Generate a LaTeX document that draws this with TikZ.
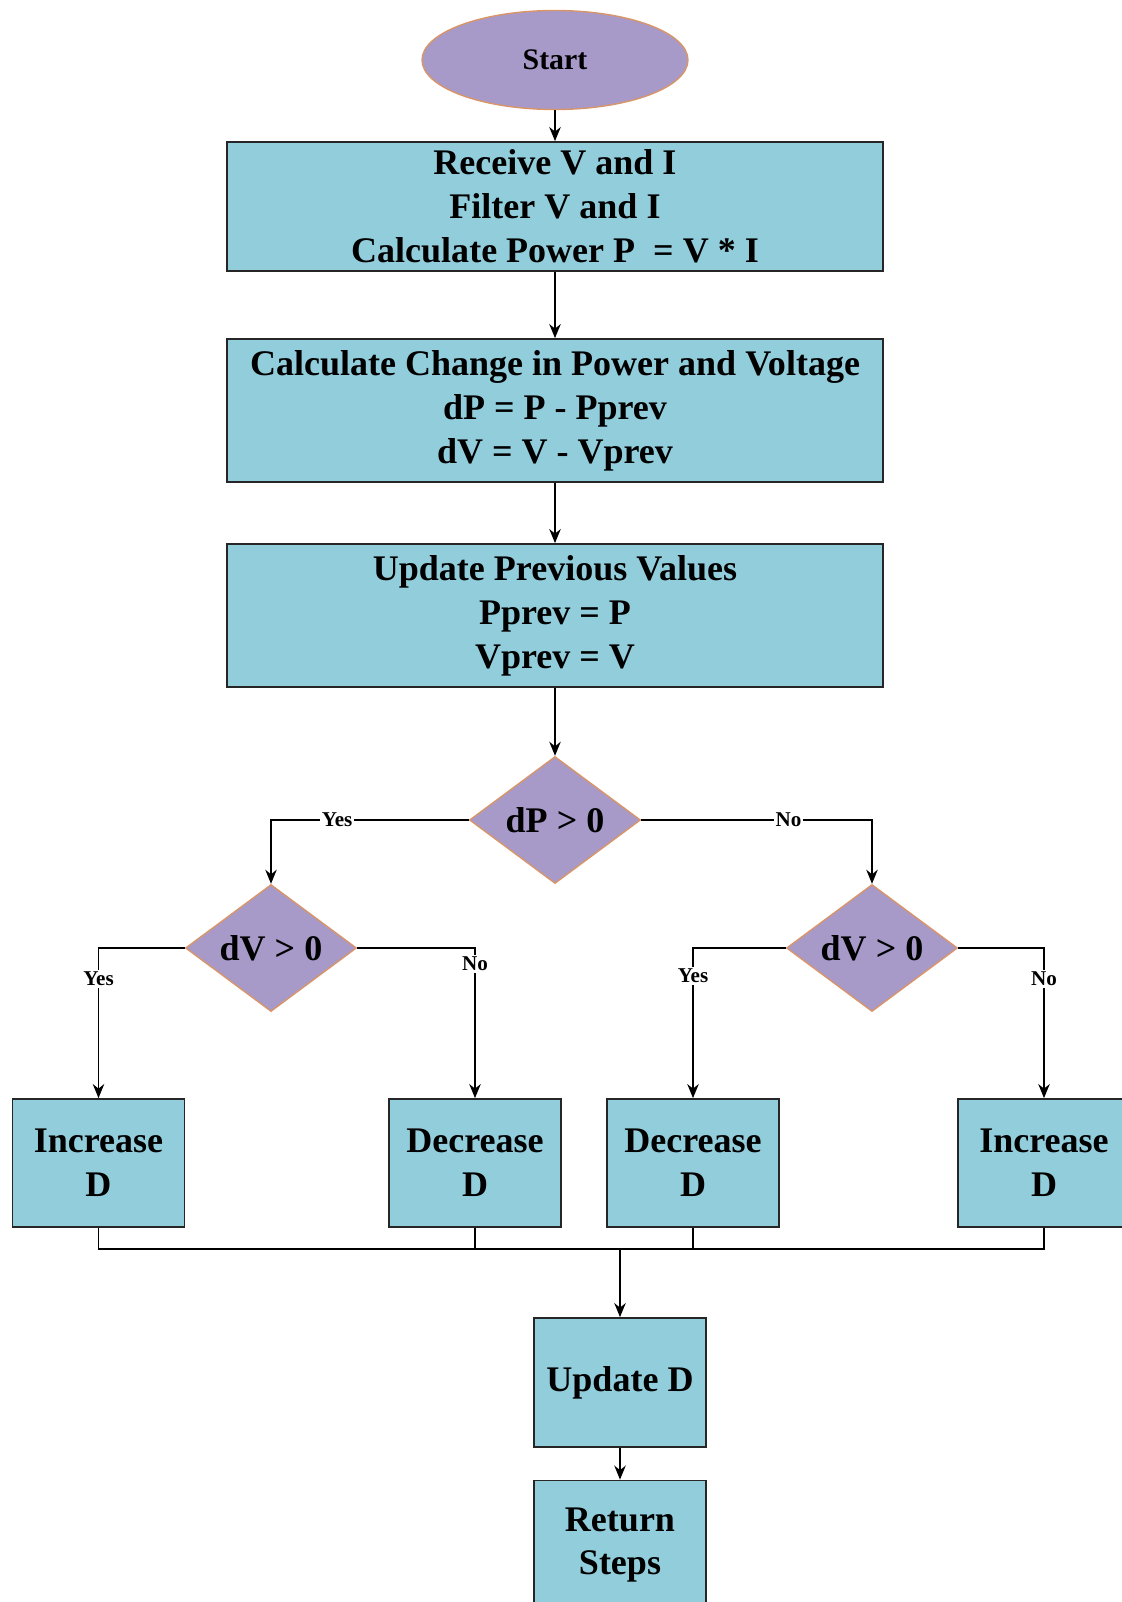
\documentclass[tikz,border=0pt]{standalone}
\usepackage{fontspec}
\setmainfont{Liberation Serif}
\usetikzlibrary{shapes.geometric,arrows.meta}

\definecolor{boxblue}{HTML}{92CDDC}
\definecolor{decpurple}{HTML}{A79AC9}
\definecolor{decedge}{HTML}{D9956A}

\tikzset{
    stepbox/.style={draw=black!85, line width=1pt, fill=boxblue, align=center, inner sep=0pt,
        font=\bfseries\fontsize{20.5}{25}\selectfont},
    bigbox/.style={stepbox, minimum width=13.12cm},
    smallbox/.style={stepbox, minimum width=3.44cm, minimum height=2.56cm},
    decision/.style={diamond, aspect=1.35, draw=decedge, line width=0.8pt, fill=decpurple, inner sep=0pt,
        minimum width=3.42cm, minimum height=2.54cm, font=\bfseries\fontsize{20.5}{25}\selectfont},
    arr/.style={line width=1.1pt, -{Stealth[length=8pt,width=6.5pt]}},
    link/.style={line width=1.1pt},
    answer/.style={fill=white, inner sep=1pt, font=\bfseries\fontsize{12}{14}\selectfont}
}

\begin{document}
\begin{tikzpicture}[x=0.02cm, y=-0.02cm]
    % the frame
    \clip (0,0) rectangle (1122,1602);
    \fill[white] (0,0) rectangle (1122,1602);

    % the main column
    \node[ellipse, draw=decedge, line width=0.8pt, fill=decpurple, minimum width=5.32cm, minimum height=1.98cm,
        font=\bfseries\fontsize{17}{20}\selectfont] (start) at (555,60) {Start};
    \node[bigbox, minimum height=2.58cm] (receive) at (555,206.5) {Receive V and I\\Filter V and I\\Calculate Power P\ \ = V * I};
    \node[bigbox, minimum height=2.86cm] (change) at (555,410.5) {Calculate Change in Power and Voltage\\dP = P - Pprev\\dV = V - Vprev};
    \node[bigbox, minimum height=2.86cm] (store) at (555,615.5) {Update Previous Values\\Pprev = P\\Vprev = V};

    % the decisions
    \node[decision] (dp) at (555,820) {dP > 0};
    \node[decision] (dvleft) at (271,948) {dV > 0};
    \node[decision] (dvright) at (872,948) {dV > 0};

    % the actions
    \node[smallbox] (incleft) at (98.5,1163) {Increase\\D};
    \node[smallbox] (decleft) at (475,1163) {Decrease\\D};
    \node[smallbox] (decright) at (693,1163) {Decrease\\D};
    \node[smallbox] (incright) at (1044,1163) {Increase\\D};

    \node[smallbox, minimum height=2.58cm] (newd) at (620,1382.5) {Update D};
    \node[smallbox, minimum height=2.58cm] (ret) at (620,1545) {Return\\Steps};

    % arrows
    \draw[arr] (start) -- (receive);
    \draw[arr] (receive) -- (change);
    \draw[arr] (change) -- (store);
    \draw[arr] (store) -- (dp);

    \draw[arr] (dp.west) -| node[answer, pos=0.333] {Yes} (dvleft.north);
    \draw[arr] (dp.east) -| node[answer, pos=0.319] {No} (dvright.north);

    \draw[arr] (dvleft.west) -| node[answer, pos=0.603] {Yes} (incleft.north);
    \draw[arr] (dvleft.east) -| node[answer, pos=0.553] {No} (decleft.north);
    \draw[arr] (dvright.west) -| node[answer, pos=0.593] {Yes} (decright.north);
    \draw[arr] (dvright.east) -| node[answer, pos=0.603] {No} (incright.north);

    % merge
    \coordinate (merge) at (620,1249);
    \draw[link] (incleft.south) |- (merge) -| (incright.south);
    \draw[link] (decleft.south) -- (decleft.south |- merge);
    \draw[link] (decright.south) -- (decright.south |- merge);
    \draw[arr] (merge) -- (newd);
    \draw[arr] (newd) -- (ret);
\end{tikzpicture}
\end{document}
